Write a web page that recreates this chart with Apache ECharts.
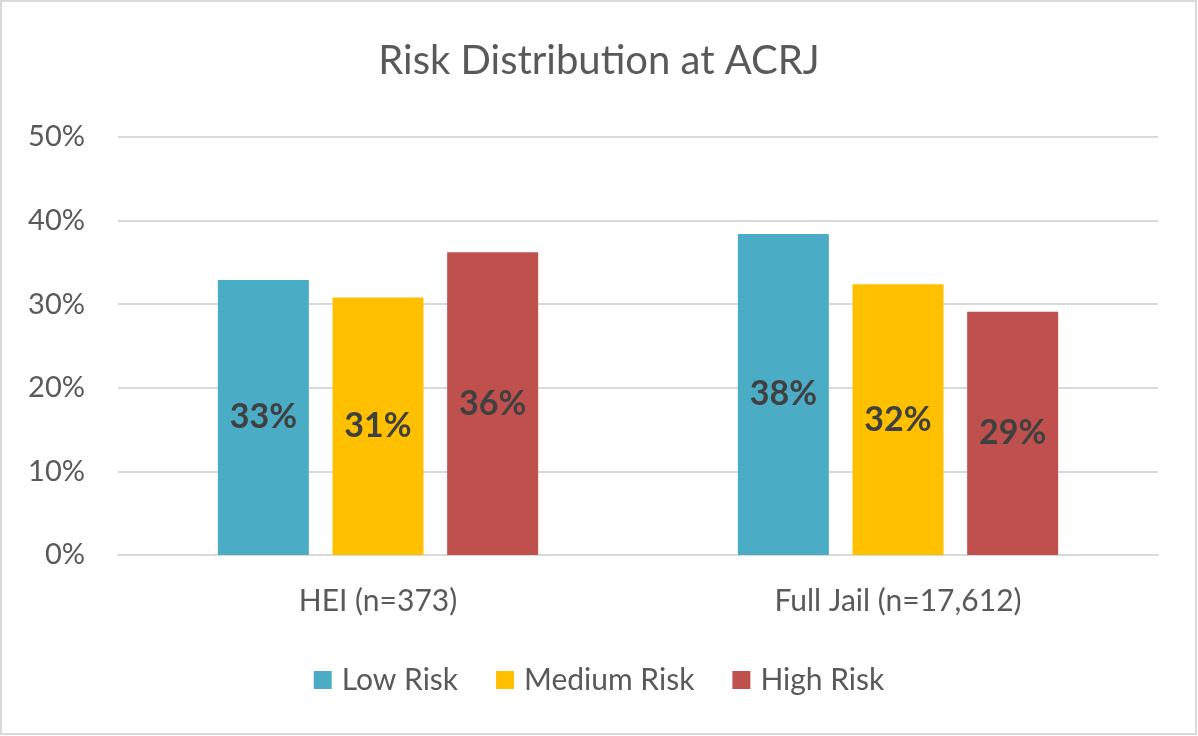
<!DOCTYPE html>
<html><head><meta charset="utf-8">
<script src="https://cdn.jsdelivr.net/npm/echarts@6/dist/echarts.min.js"></script>
<style>html,body{margin:0;padding:0;background:#fff}#c{width:1198px;height:736px}</style>
</head><body><div id="c"></div>
<script>
const categories = ['HEI (n=373)', 'Full Jail (n=17,612)'];
const seriesNames = ['Low Risk', 'Medium Risk', 'High Risk'];
const lowRisk = [32.9, 38.4];
const mediumRisk = [30.8, 32.4];
const highRisk = [36.2, 29.1];
const labelsLow = ['33%', '38%'];
const labelsMedium = ['31%', '32%'];
const labelsHigh = ['36%', '29%'];
const colors = ['#4BACC6', '#FFC000', '#C0504D'];
const FONT = 'Lato, "Open Sans", sans-serif';

const chart = echarts.init(document.getElementById('c'), null, {renderer: 'canvas'});
function mk(name, data, labels, color) {
  return {
    name, type: 'bar', data, barWidth: 91, barGap: '26%',
    itemStyle: {color},
    label: {show: true, position: 'inside', formatter: p => labels[p.dataIndex],
      fontFamily: FONT, fontWeight: 'bold', fontSize: 34, color: '#404040'}
  };
}
chart.setOption({
  animation: false,
  title: {text: 'Risk Distribution at ACRJ', left: 'center', top: 36,
    textStyle: {fontFamily: FONT, fontSize: 40, fontWeight: 'normal', color: '#595959'}},
  legend: {data: seriesNames, top: 660, left: 'center', itemWidth: 18, itemHeight: 18, itemGap: 38,
    icon: 'rect', textStyle: {fontFamily: FONT, fontSize: 30, color: '#595959', padding: [0, 0, 0, 5]}},
  grid: {left: 118, right: 40, top: 137, bottom: 181, containLabel: false},
  xAxis: {type: 'category', data: categories,
    axisLine: {lineStyle: {color: '#d9d9d9', width: 2}}, axisTick: {show: false},
    axisLabel: {fontFamily: FONT, fontSize: 30, color: '#595959', margin: 31}},
  yAxis: {type: 'value', min: 0, max: 50, interval: 10,
    axisLabel: {formatter: '{value}%', fontFamily: FONT, fontSize: 29, color: '#595959', margin: 33},
    splitLine: {lineStyle: {color: '#d9d9d9', width: 2}}},
  series: [
    mk(seriesNames[0], lowRisk, labelsLow, colors[0]),
    mk(seriesNames[1], mediumRisk, labelsMedium, colors[1]),
    mk(seriesNames[2], highRisk, labelsHigh, colors[2])
  ],
  graphic: [{type: 'rect', shape: {x: 1, y: 1, width: 1195, height: 733},
    style: {fill: 'none', stroke: '#d9d9d9', lineWidth: 2}, silent: true}]
});
</script></body></html>
